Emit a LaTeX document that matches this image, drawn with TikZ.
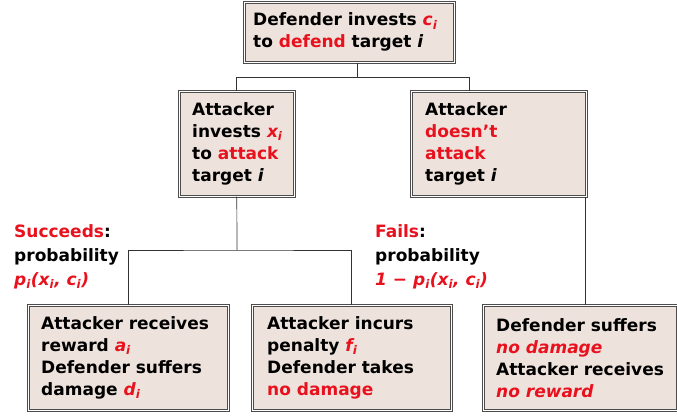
\documentclass[tikz,border=0pt]{standalone}
\usepackage{fontspec}
\setmainfont{DejaVu Sans}
\usetikzlibrary{positioning}

\definecolor{boxfill}{RGB}{238,226,220}
\definecolor{hot}{RGB}{232,18,30}
\newcommand{\hot}[1]{\textcolor{hot}{#1}}
\newcommand{\hvar}[2]{\textcolor{hot}{\itshape #1\textsubscript{#2}}}

\begin{document}
\begin{tikzpicture}[x=1pt,y=-1pt,
  gbox/.style={draw=black!70,line width=0.6pt,double=white,double distance=1.4pt,
    fill=boxfill,inner sep=0pt,anchor=north west},
  btext/.style={align=left,inner sep=0pt,font=\bfseries\fontsize{17}{22}\selectfont},
  wire/.style={draw=black!80,line width=0.7pt}]
% Picture is 677 by 415, y runs down

\useasboundingbox (0,0) rectangle (677,415);

% Defender box at the top
\node[gbox,minimum width=210pt,minimum height=60pt] (defend) at (244,2) {};
\node[btext,right=9pt of defend.west] (defend-t)
  {Defender invests \hvar{c}{i}\\to \hot{defend} target \textit{i}};

% Attacker boxes
\node[gbox,minimum width=115pt,minimum height=105pt] (attack) at (179,91) {};
\node[btext,right=13pt of attack.west] (attack-t)
  {Attacker\\invests \hvar{x}{i}\\to \hot{attack}\\target \textit{i}};
\node[gbox,minimum width=175pt,minimum height=105pt] (noatt) at (411,91) {};
\node[btext,right=14pt of noatt.west] (noatt-t)
  {Attacker\\\hot{doesn’t}\\\hot{attack}\\target \textit{i}};

% Outcome boxes
\node[gbox,minimum width=200pt,minimum height=105pt] (reward) at (28,305) {};
\node[btext,right=13pt of reward.west] (reward-t)
  {Attacker receives\\reward \hvar{a}{i}\\Defender suffers\\damage \hvar{d}{i}};
\node[gbox,minimum width=199pt,minimum height=105pt] (penalty) at (252,305) {};
\node[btext,right=15pt of penalty.west] (penalty-t)
  {Attacker incurs\\penalty \hvar{f}{i}\\Defender takes\\\hot{no damage}};
\node[gbox,minimum width=194pt,minimum height=105pt] (nodmg) at (483,305) {};
\node[btext,right=13pt of nodmg.west] (nodmg-t)
  {Defender suffers\\\hot{\itshape no damage}\\Attacker receives\\\hot{\itshape no reward}};

% Probabilities
\node[btext,anchor=north west,font=\bfseries\fontsize{17}{24}\selectfont] (succ) at (14,224)
  {\hot{Succeeds}:\\probability\\\hot{\itshape p\textsubscript{i}(x\textsubscript{i}, c\textsubscript{i})}};
\node[btext,anchor=north west,font=\bfseries\fontsize{17}{24}\selectfont] (fail) at (375,224)
  {\hot{Fails}:\\probability\\\hot{\itshape 1 − p\textsubscript{i}(x\textsubscript{i}, c\textsubscript{i})}};

% Tree lines
\coordinate (top) at (357,77);
\coordinate (na) at (469,77);
\coordinate (split) at (237,250);
\coordinate (nd) at (585,250);
\draw[wire] (defend.south -| top) -- (top);
\draw[wire] (attack.north) |- (na) -- (noatt.north -| na);
\draw[wire] (attack.south) -- (split);
\draw[wire] (reward.north) |- (split) -| (penalty.north);
\draw[wire] (nodmg.north -| nd) -- (noatt.south -| nd);
\end{tikzpicture}
\end{document}
